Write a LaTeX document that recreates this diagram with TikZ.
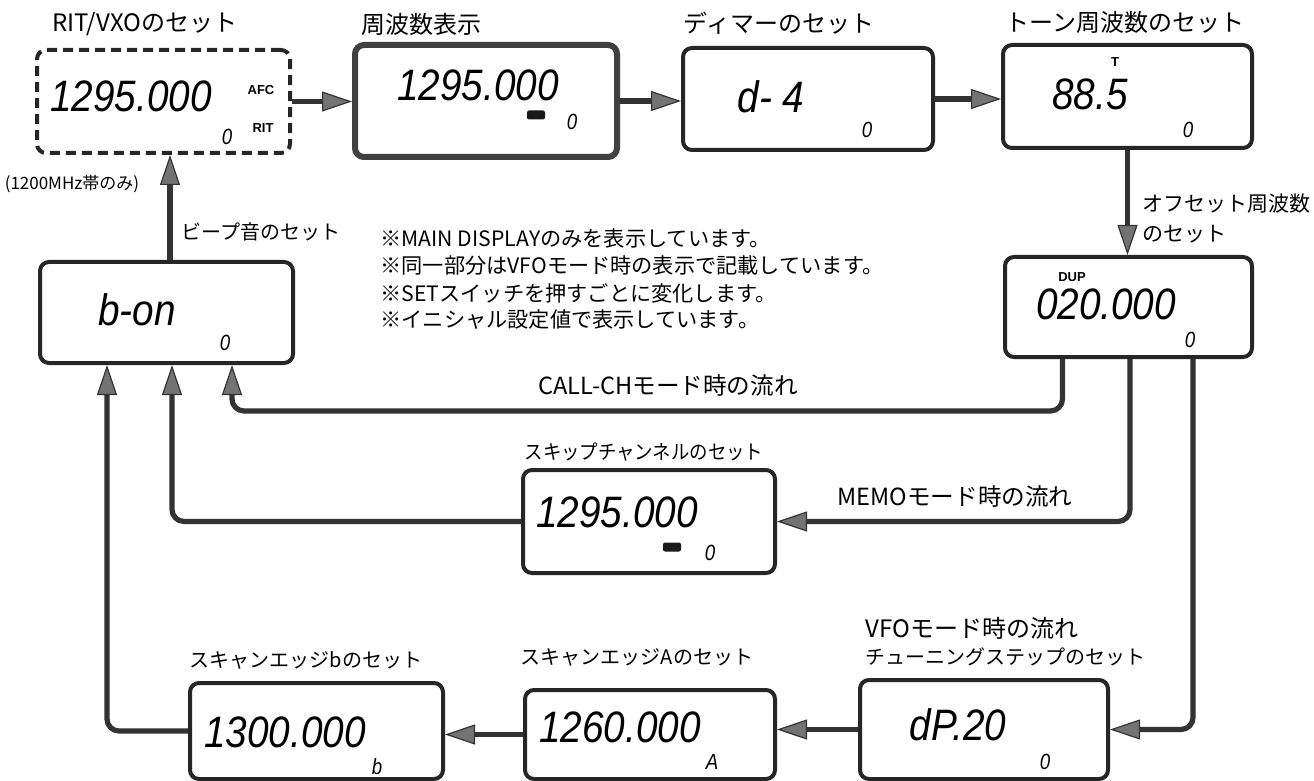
\documentclass[tikz,border=0pt]{standalone}
\usepackage{fontspec}
\usepackage{graphicx}
\setmainfont{Noto Sans CJK JP}
\newfontfamily\lcdfont{Liberation Sans}
\usetikzlibrary{arrows.meta}
\newcommand\lcdbig[1]{{\lcdfont\itshape\fontsize{22pt}{22pt}\selectfont\scalebox{0.88}[1]{#1}}}
\newcommand\lcdsm[1]{{\lcdfont\itshape\fontsize{11pt}{11pt}\selectfont\scalebox{0.85}[1]{#1}}}
\begin{document}
\begin{tikzpicture}[x=0.5pt,y=-0.5pt,
  lcdbox/.style={draw=black!85, line width=2pt, rounded corners=4.5pt, inner sep=0pt},
  flow/.style={draw=black!80, line width=2.6pt, rounded corners=6pt,
    -{Triangle[length=15pt,width=10pt,fill=black!55,line width=0.6pt]}},
  flowstraight/.style={flow, rounded corners=0pt},
  lcdt/.style={inner sep=0pt},
  lbl/.style={inner sep=0pt, font=\lcdfont\bfseries\fontsize{6.5pt}{6.5pt}\selectfont},
  memicon/.style={fill=black!90, rounded corners=1pt, minimum width=9pt, minimum height=4.5pt, inner sep=0pt},
  title/.style={inner sep=0pt, font=\fontsize{12pt}{14pt}\selectfont},
  sub/.style={inner sep=0pt, font=\fontsize{10pt}{12pt}\selectfont},
  note/.style={inner sep=0pt, anchor=west, font=\fontsize{10.6pt}{12pt}\selectfont},
  flowlbl/.style={inner sep=0pt, font=\fontsize{11.8pt}{13pt}\selectfont}]
\useasboundingbox (0,0) rectangle (1314,781);

% ---- boxes ----
\node[lcdbox, dashed, dash pattern=on 5pt off 3pt, minimum width=126.5pt, minimum height=51.5pt] (rit) at (163.5,101.5) {};
\node[lcdbox, line width=3pt, draw=black!75, minimum width=131pt, minimum height=56pt] (freq) at (486,101) {};
\node[lcdbox, minimum width=125pt, minimum height=51pt] (dim) at (808,99) {};
\node[lcdbox, minimum width=124.5pt, minimum height=51.5pt] (tone) at (1127.5,96.5) {};
\node[lcdbox, minimum width=123.5pt, minimum height=50pt] (off) at (1128.5,307) {};
\node[lcdbox, minimum width=126.5pt, minimum height=50.5pt] (beep) at (166.5,312.5) {};
\node[lcdbox, minimum width=126pt, minimum height=51.5pt] (skip) at (649,521.5) {};
\node[lcdbox, minimum width=126.5pt, minimum height=48pt] (scanb) at (316.5,731) {};
\node[lcdbox, minimum width=125pt, minimum height=44.5pt] (scana) at (650,734.5) {};
\node[lcdbox, minimum width=124pt, minimum height=49.5pt] (dp) at (984,729.5) {};

% ---- display contents ----
\node[lcdt] (rit-d) at (131,96) {\lcdbig{1295.000}};
\node[lbl] (rit-afc) at (261,90) {AFC};
\node[lbl] (rit-rit) at (263,128) {RIT};
\node[lcdt] (rit-0) at (227,137) {\lcdsm{0}};

\node[lcdt] (freq-d) at (478,85) {\lcdbig{1295.000}};
\node[memicon] (freq-m) at (536,115) {};
\node[lcdt] (freq-0) at (572,122) {\lcdsm{0}};

\node[lcdt] (dim-d) at (771,97) {\lcdbig{d- 4}};
\node[lcdt] (dim-0) at (867,130) {\lcdsm{0}};

\node[lcdt] (tone-d) at (1090,94) {\lcdbig{88.5}};
\node[lbl] (tone-t) at (1115,62) {T};
\node[lcdt] (tone-0) at (1188,130) {\lcdsm{0}};

\node[lbl] (off-dup) at (1072,277) {DUP};
\node[lcdt] (off-d) at (1106,304) {\lcdbig{020.000}};
\node[lcdt] (off-0) at (1190,340) {\lcdsm{0}};

\node[lcdt] (beep-d) at (137,310) {\lcdbig{b-on}};
\node[lcdt] (beep-0) at (225,343) {\lcdsm{0}};

\node[lcdt] (skip-d) at (617,512) {\lcdbig{1295.000}};
\node[memicon] (skip-m) at (672,547) {};
\node[lcdt] (skip-0) at (710,553) {\lcdsm{0}};

\node[lcdt] (scanb-d) at (285,732) {\lcdbig{1300.000}};
\node[lcdt] (scanb-b) at (377,767) {\lcdsm{b}};

\node[lcdt] (scana-d) at (620,727) {\lcdbig{1260.000}};
\node[lcdt] (scana-a) at (712,762) {\lcdsm{A}};

\node[lcdt] (dp-d) at (958,725) {\lcdbig{dP.20}};
\node[lcdt] (dp-0) at (1045,762) {\lcdsm{0}};

% ---- titles ----
\node[title] (t-rit) at (145,24) {RIT/VXOのセット};
\node[title] (t-freq) at (421,24) {周波数表示};
\node[title] (t-dim) at (779,23) {ディマーのセット};
\node[title] (t-tone) at (1125,22) {トーン周波数のセット};
\node[inner sep=0pt, anchor=west, align=left, font=\fontsize{10.5pt}{15pt}\selectfont] (t-off) at (1142,218) {オフセット周波数\\のセット};
\node[sub] (t-beep) at (261,232) {ビープ音のセット};
\node[inner sep=0pt, font=\fontsize{8.5pt}{10pt}\selectfont] (t-1200) at (72,184) {(1200MHz帯のみ)};
\node[sub] (t-skip) at (644,452) {\scalebox{0.92}[1]{スキップチャンネルのセット}};
\node[sub] (t-scana) at (637,657) {スキャンエッジAのセット};
\node[sub] (t-scanb) at (306,660) {スキャンエッジbのセット};
\node[inner sep=0pt, anchor=west, font=\fontsize{12pt}{14pt}\selectfont] (t-vfo) at (865,628) {VFOモード時の流れ};
\node[inner sep=0pt, anchor=west, font=\fontsize{10pt}{12pt}\selectfont] (t-tun) at (865,657) {チューニングステップのセット};

% ---- notes ----
\node[note] (n1) at (380,238) {※MAIN DISPLAYのみを表示しています。};
\node[note] (n2) at (380,265) {※同一部分はVFOモード時の表示で記載しています。};
\node[note] (n3) at (380,293) {※SETスイッチを押すごとに変化します。};
\node[note] (n4) at (380,320) {※イニシャル設定値で表示しています。};

% ---- flow labels ----
\node[flowlbl] (l-call) at (668,386) {CALL-CHモード時の流れ};
\node[flowlbl] (l-memo) at (955,497) {MEMOモード時の流れ};

% ---- connectors ----
\draw[flowstraight] (rit.east) -- (rit.east -| freq.west);
\draw[flowstraight] (freq.east) -- (freq.east -| dim.west);
\draw[flowstraight] (dim.east) -- (dim.east -| tone.west);
\draw[flowstraight] (tone.south) -- (tone.south |- off.north);
\draw[flowstraight] ([xshift=1.75pt]beep.north) -- ([xshift=1.75pt]beep.north |- rit.south);

\coordinate (callc) at (232,411);
\draw[flow] ([xshift=-33pt]off.south) |- (callc) -- ([xshift=32.75pt]beep.south);
\draw[flow] ([xshift=0.75pt]off.south) |- (skip.east);
\draw[flow] ([xshift=32.25pt]off.south) |- (dp.east);
\draw[flowstraight] (dp.west) -- (dp.west -| scana.east);
\draw[flowstraight] (scana.west) -- (scana.west -| scanb.east);
\draw[flow] (scanb.west) -| ([xshift=-29.75pt]beep.south);
\draw[flow] (skip.west) -| ([xshift=2.75pt]beep.south);
\end{tikzpicture}
\end{document}
